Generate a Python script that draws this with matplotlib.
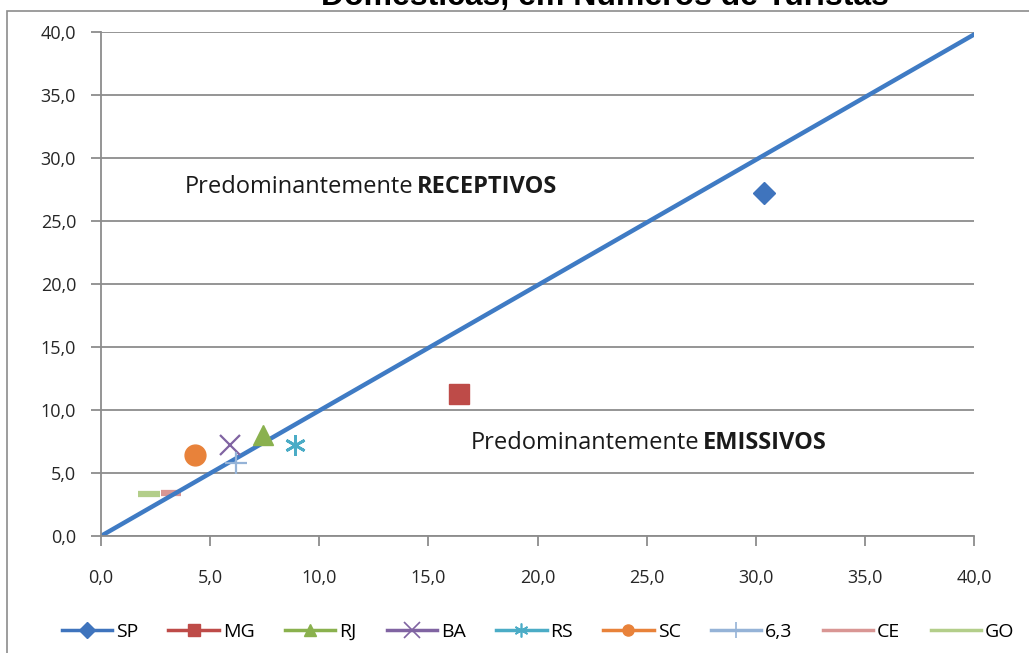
import matplotlib.pyplot as plt
from matplotlib.lines import Line2D
from matplotlib.patches import Rectangle
from matplotlib.ticker import MultipleLocator, FuncFormatter

plt.rcParams['font.family'] = ['Open Sans', 'DejaVu Sans']

# dados (emissivo x receptivo)
estados = ['SP', 'MG', 'RJ', 'BA', 'RS', 'SC', '6,3', 'CE', 'GO']
emissivo = [30.4, 16.4, 7.4, 5.9, 8.9, 4.3, 6.2, 3.2, 2.2]
receptivo = [27.2, 11.3, 8.0, 7.2, 7.2, 6.4, 5.8, 3.4, 3.3]
diag_x = [0.0, 40.0]
diag_y = [0.0, 39.8]

cores = ['#3F74BD', '#BE4B48', '#8AB14E', '#8064A2', '#4BACC6',
         '#E8823A', '#95B3D7', '#D99694', '#B3CE8A']
marcadores = ['D', 's', '^', 'x', '*', 'o', '+', '_', '_']
tamanhos = [11, 15, 14, 14, 15, 15, 16, 14, 16]

fig = plt.figure(figsize=(10.29, 6.53), dpi=100, facecolor='white')
ax = fig.add_axes([101 / 1029, 1 - 536 / 653, (974 - 101) / 1029, (536 - 32) / 653])

# moldura externa
fig.patches.append(Rectangle((7 / 1029, -0.01), 1.02, 1 - 11 / 653 + 0.01,
                             transform=fig.transFigure, fill=False,
                             ec='#8c8c8c', lw=1.2))

# titulo cortado no topo
fig.text(605 / 1029, 1 - 5 / 653, 'Domésticas, em Números de Turistas',
         ha='center', va='baseline', fontsize=23, fontweight='bold',
         family=['Liberation Sans', 'DejaVu Sans'])

ax.plot(diag_x, diag_y, color='#3F7BC4', lw=3.2, zorder=2, solid_capstyle='round')

for i, nome in enumerate(estados):
    m = marcadores[i]
    if m == '*':
        ax.plot(emissivo[i], receptivo[i], marker=(6, 2, 0), ms=tamanhos[i],
                mec=cores[i], mew=2, ls='none', zorder=3)
    elif m in ('x', '+'):
        ax.plot(emissivo[i], receptivo[i], marker=m, ms=tamanhos[i],
                mec=cores[i], mew=1.6, ls='none', zorder=3)
    elif m == '_':
        ax.plot(emissivo[i], receptivo[i], marker=m, ms=tamanhos[i],
                mec=cores[i], mew=4.5, ls='none', zorder=1)
    else:
        ax.plot(emissivo[i], receptivo[i], marker=m, ms=tamanhos[i],
                color=cores[i], mec=cores[i], ls='none', zorder=3)

ax.set_xlim(0, 40)
ax.set_ylim(0, 40)
ax.xaxis.set_major_locator(MultipleLocator(5))
ax.yaxis.set_major_locator(MultipleLocator(5))
fmt = FuncFormatter(lambda v, pos: ('%.1f' % v).replace('.', ','))
ax.xaxis.set_major_formatter(fmt)
ax.yaxis.set_major_formatter(fmt)
ax.grid(True, axis='y', color='#8c8c8c', lw=1.3, zorder=0)
ax.set_axisbelow(True)
for s in ['top', 'right']:
    ax.spines[s].set_visible(False)
for s in ['left', 'bottom']:
    ax.spines[s].set_color('#8c8c8c')
    ax.spines[s].set_lw(1.3)
ax.tick_params(direction='out', length=7, width=1.3, color='#8c8c8c',
               labelsize=13, labelcolor='#262626')
ax.tick_params(axis='x', pad=17)
ax.tick_params(axis='y', pad=11)

# textos das regioes: parte normal + parte em negrito
r = fig.canvas.get_renderer()
for (x0, y0, forte) in [(3.85, 27.7, 'RECEPTIVOS'), (16.95, 7.4, 'EMISSIVOS')]:
    a = ax.text(x0, y0, 'Predominantemente', fontsize=17, va='center', ha='left',
                color='#1a1a1a')
    bb = a.get_window_extent(renderer=r)
    x1 = ax.transData.inverted().transform((bb.x1 + 3, bb.y0))[0]
    ax.text(x1, y0, forte, fontsize=17, va='center', ha='left', fontweight='bold',
            color='#1a1a1a')

# legenda
handles = []
for i, nome in enumerate(estados):
    m = marcadores[i]
    if m == '_':
        h = Line2D([], [], color=cores[i], lw=2.5)
    elif m == '*':
        h = Line2D([], [], color=cores[i], lw=2.5, marker=(6, 2, 0), ms=10, mew=1.2)
    elif m in ('x', '+'):
        h = Line2D([], [], color=cores[i], lw=2.5, marker=m, ms=11, mew=1.2)
    else:
        h = Line2D([], [], color=cores[i], lw=2.5, marker=m, ms=8)
    handles.append(h)
fig.legend(handles, estados, loc='center', bbox_to_anchor=(538 / 1029, 1 - 632 / 653),
           ncol=9, frameon=False, fontsize=14, handlelength=2.6, handletextpad=0.2,
           columnspacing=1.55)

fig.savefig('out.png', dpi=100, facecolor='white')
